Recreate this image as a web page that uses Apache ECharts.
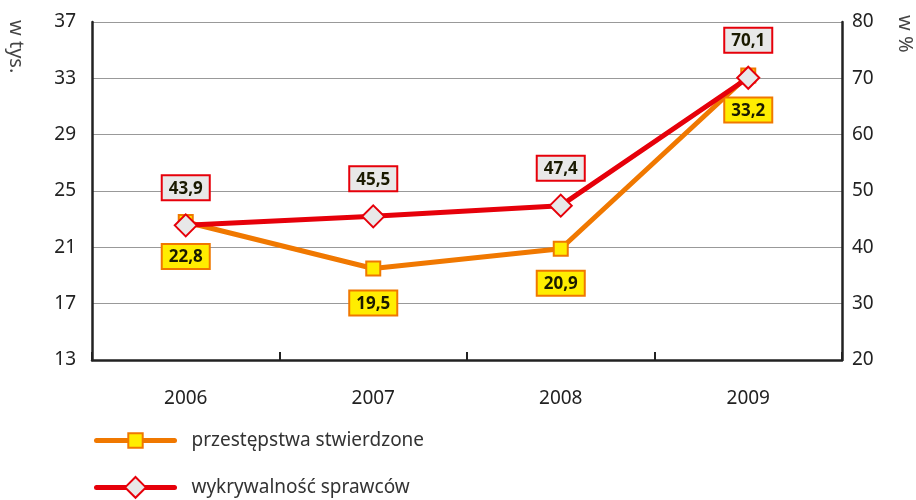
<!DOCTYPE html>
<html>
<head>
<meta charset="utf-8">
<script src="https://cdn.jsdelivr.net/npm/echarts@6/dist/echarts.min.js"></script>
<style>
  html, body { margin: 0; padding: 0; background: #fff; }
  #root { width: 916px; height: 500px; }
</style>
</head>
<body>
<div id="root"></div>
<script>
// values
var years = ['2006', '2007', '2008', '2009']
var stwierdzone = [22.8, 19.5, 20.9, 33.2]   // w tys.
var wykrywalnosc = [43.9, 45.5, 47.4, 70.1]  // w %
var seriesNames = ['przestępstwa stwierdzone', 'wykrywalność sprawców']

var font = 'Noto Sans'
var comma = function (p) { return String(p.value).replace('.', ',') }

var legendBase = {
  orient: 'horizontal',
  left: 94,
  padding: 0,
  itemWidth: 78,
  lineStyle: { width: 5, cap: 'round' },
  textStyle: { fontFamily: font, fontSize: 19, color: '#333', padding: [0, 0, 0, 12] }
}

var chart = echarts.init(document.getElementById('root'))

var option = {
  animation: false,
  textStyle: { fontFamily: font },
  grid: { left: 92, right: 74, top: 22, bottom: 140 },
  legend: [
    Object.assign({}, legendBase, { top: 431, itemHeight: 18, data: [seriesNames[0]] }),
    Object.assign({}, legendBase, { top: 476, itemHeight: 26, data: [seriesNames[1]] })
  ],
  graphic: [
    {
      type: 'text', left: 6, top: 20, rotation: -Math.PI / 2,
      style: { text: 'w tys.', font: '20px "Noto Sans"', fill: '#444' }
    },
    {
      type: 'text', left: 895, top: 15, rotation: -Math.PI / 2,
      style: { text: 'w %', font: '20px "Noto Sans"', fill: '#444' }
    }
  ],
  xAxis: {
    type: 'category',
    data: years,
    boundaryGap: true,
    axisLine: { lineStyle: { color: '#222', width: 2.5 } },
    axisTick: { show: true, inside: true, length: 8, lineStyle: { color: '#222', width: 2 } },
    axisLabel: { margin: 29, fontSize: 19, color: '#222', fontFamily: font },
    splitLine: { show: false }
  },
  yAxis: [
    {
      type: 'value', min: 13, max: 37, interval: 4,
      axisLine: { show: true, lineStyle: { color: '#222', width: 2.5 } },
      axisTick: { show: false },
      axisLabel: { margin: 16, fontSize: 19, color: '#222', fontFamily: font },
      splitLine: { lineStyle: { color: '#999', width: 1.2 } }
    },
    {
      type: 'value', min: 20, max: 80, interval: 10,
      position: 'right',
      axisLine: { show: true, lineStyle: { color: '#222', width: 2.5 } },
      axisTick: { show: false },
      axisLabel: { margin: 10, fontSize: 19, color: '#222', fontFamily: font },
      splitLine: { show: false }
    }
  ],
  series: [
    {
      name: seriesNames[0],
      type: 'line',
      yAxisIndex: 0,
      data: stwierdzone,
      symbol: 'rect',
      symbolSize: 14,
      lineStyle: { color: '#f07800', width: 5 },
      itemStyle: { color: '#ffed00', borderColor: '#f07800', borderWidth: 2 },
      label: {
        show: true, position: 'bottom', distance: 15,
        formatter: comma,
        fontFamily: font, fontWeight: 'bold', fontSize: 17, color: '#1a1a00',
        backgroundColor: '#ffed00', borderColor: '#f07800', borderWidth: 2,
        padding: [4, 6, 2, 6]
      },
      z: 2
    },
    {
      name: seriesNames[1],
      type: 'line',
      yAxisIndex: 1,
      data: wykrywalnosc,
      symbol: 'diamond',
      symbolSize: 22,
      lineStyle: { color: '#e6000a', width: 5 },
      itemStyle: { color: '#e8e8e8', borderColor: '#e6000a', borderWidth: 2 },
      label: {
        show: true, position: 'top', distance: 14,
        formatter: comma,
        fontFamily: font, fontWeight: 'bold', fontSize: 17, color: '#1a1a00',
        backgroundColor: '#e8e8e8', borderColor: '#e6000a', borderWidth: 2,
        padding: [4, 6, 2, 6]
      },
      z: 3
    }
  ]
}

chart.setOption(option)
</script>
</body>
</html>
